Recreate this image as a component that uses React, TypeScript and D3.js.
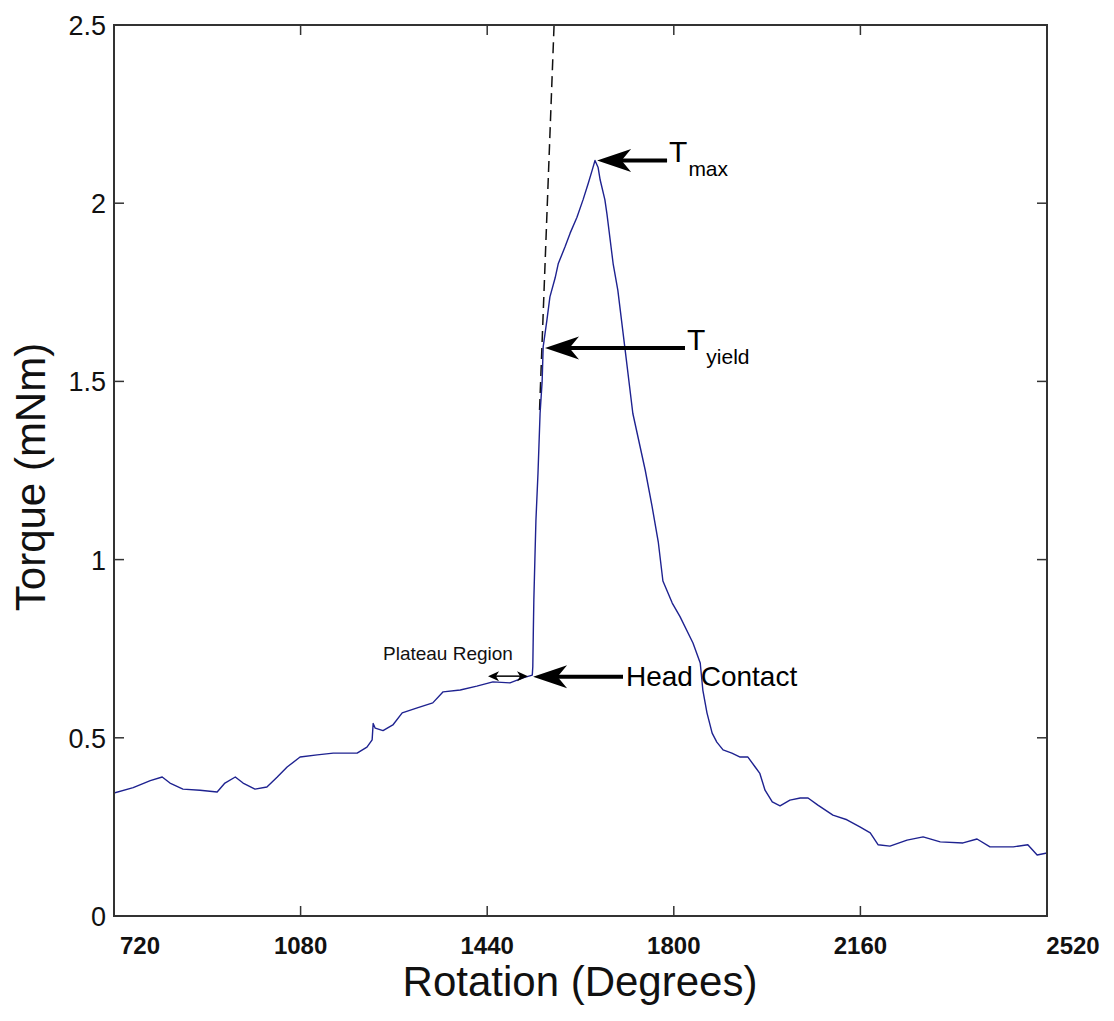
import React from 'react'
import * as d3 from 'd3'

// torque trace (degrees, mNm)
const rotation = [
  720, 757, 790, 813, 828, 853, 886, 919, 934, 954, 969, 992, 1015, 1035, 1054, 1079, 1112, 1143, 1189,
  1208, 1218, 1220, 1224, 1239, 1258, 1276, 1305, 1335, 1355, 1388, 1420, 1451, 1484, 1509, 1527,
  1528, 1529, 1530, 1532, 1534, 1538, 1542, 1546, 1548, 1555, 1561, 1571, 1577, 1590, 1600, 1613, 1625,
  1635, 1642, 1648, 1654, 1658, 1667, 1671, 1683, 1692, 1706, 1721, 1745, 1758, 1770, 1779, 1797, 1812,
  1837, 1851, 1856, 1864, 1874, 1883, 1895, 1912, 1928, 1943, 1957, 1966, 1976, 1990, 2005, 2024, 2044,
  2059, 2078, 2107, 2134, 2159, 2179, 2194, 2217, 2250, 2281, 2314, 2358, 2385, 2410, 2455, 2483, 2501, 2520,
]
const torque = [
  0.345, 0.36, 0.38, 0.39, 0.373, 0.356, 0.353, 0.348, 0.373, 0.39, 0.373, 0.356, 0.362, 0.39, 0.418, 0.446,
  0.452, 0.457, 0.457, 0.474, 0.494, 0.54, 0.527, 0.52, 0.536, 0.57, 0.584, 0.598, 0.629, 0.634, 0.645, 0.657,
  0.654, 0.668, 0.676, 0.7, 0.8, 0.887, 1.0, 1.11, 1.243, 1.41, 1.5, 1.597, 1.67, 1.737, 1.79, 1.83, 1.877,
  1.916, 1.96, 2.01, 2.056, 2.09, 2.12, 2.1, 2.065, 2.01, 1.97, 1.83, 1.756, 1.59, 1.41, 1.25, 1.15, 1.05,
  0.94, 0.878, 0.84, 0.766, 0.71, 0.634, 0.57, 0.513, 0.488, 0.466, 0.457, 0.446, 0.446, 0.418, 0.4, 0.353,
  0.32, 0.309, 0.325, 0.331, 0.331, 0.311, 0.283, 0.27, 0.25, 0.233, 0.2, 0.196, 0.213, 0.222, 0.208, 0.205,
  0.216, 0.194, 0.194, 0.2, 0.171, 0.177,
]

// dashed elastic tangent
const tangentX = [1541, 1569]
const tangentY = [1.42, 2.5]

const xTicks = [720, 1080, 1440, 1800, 2160, 2520]
const yTicks = [0, 0.5, 1, 1.5, 2, 2.5]
const yTickLabels = ['0', '0.5', '1', '1.5', '2', '2.5']

// annotation arrows: tip, tail end and label
const arrowTipX = [1652, 1551.5, 1528.5]
const arrowTipY = [2.12, 1.594, 0.671]
const arrowTailX = [1787, 1821.6, 1702]
const arrowMain = ['T', 'T', 'Head Contact']
const arrowSub = ['max', 'yield', '']

const plateauX = [1441.6, 1518.7]
const plateauY = 0.673

const W = 1114
const H = 1021
const left = 114
const right = 1047
const top = 25
const bottom = 916
const font = '"Liberation Sans", Arial, sans-serif'

const headPath = (x: number, y: number, L: number, w: number, dir: number) =>
  `M${x},${y}L${x + dir * L},${y - w}L${x + dir * L * 0.72},${y}L${x + dir * L},${y + w}Z`

export default function App() {
  const x = d3.scaleLinear().domain([720, 2520]).range([left, right])
  const y = d3.scaleLinear().domain([0, 2.5]).range([bottom, top])

  const pts = rotation.map((r, i) => [r, torque[i]] as [number, number])
  const line = d3
    .line<[number, number]>()
    .x((d) => x(d[0]))
    .y((d) => y(d[1]))

  const tangent = tangentX.map((t, i) => [t, tangentY[i]] as [number, number])

  const xLabelShift = (i: number) => (i === 0 || i === xTicks.length - 1 ? 26 : 0)

  return (
    <svg width={W} height={H} style={{ position: 'absolute', left: 0, top: 0, background: '#fff' }}>
      <defs>
        <clipPath id="plot">
          <rect x={left} y={top} width={right - left} height={bottom - top} />
        </clipPath>
      </defs>
      <rect width={W} height={H} fill="#fff" />

      {/* data */}
      <g clipPath="url(#plot)">
        <path d={line(tangent) ?? ''} fill="none" stroke="#111" strokeWidth={1.5} strokeDasharray="11,6" />
        <path d={line(pts) ?? ''} fill="none" stroke="#1e2290" strokeWidth={1.4} strokeLinejoin="round" />
      </g>

      {/* box + ticks */}
      <rect x={left} y={top} width={right - left} height={bottom - top} fill="none" stroke="#333" strokeWidth={2} />
      {xTicks.map((t, i) => (
        <g key={'x' + t}>
          <line x1={x(t)} x2={x(t)} y1={bottom} y2={bottom - 10} stroke="#333" strokeWidth={1.5} />
          <line x1={x(t)} x2={x(t)} y1={top} y2={top + 10} stroke="#333" strokeWidth={1.5} />
          <text
            x={x(t) + xLabelShift(i)}
            y={954}
            textAnchor="middle"
            fontFamily={font}
            fontWeight="bold"
            fontSize={24}
            fill="#111"
          >
            {t}
          </text>
        </g>
      ))}
      {yTicks.map((t, i) => (
        <g key={'y' + t}>
          <line x1={left} x2={left + 10} y1={y(t)} y2={y(t)} stroke="#333" strokeWidth={1.5} />
          <line x1={right} x2={right - 10} y1={y(t)} y2={y(t)} stroke="#333" strokeWidth={1.5} />
          <text x={106} y={y(t) + 10} textAnchor="end" fontFamily={font} fontSize={27} fill="#111">
            {yTickLabels[i]}
          </text>
        </g>
      ))}

      {/* axis titles */}
      <text x={580} y={996} textAnchor="middle" fontFamily={font} fontSize={42} fill="#111">
        Rotation (Degrees)
      </text>
      <text
        transform={`translate(45,477) rotate(-90)`}
        textAnchor="middle"
        fontFamily={font}
        fontSize={42}
        fill="#111"
      >
        Torque (mNm)
      </text>

      {/* annotation arrows */}
      {arrowTipX.map((tx, i) => {
        const px = x(tx)
        const py = y(arrowTipY[i])
        const tail = x(arrowTailX[i])
        const L = 34
        return (
          <g key={'a' + i}>
            <line x1={px + L * 0.7} x2={tail} y1={py} y2={py} stroke="#000" strokeWidth={4} />
            <path d={headPath(px, py, L, 11.5, 1)} fill="#000" />
            {arrowSub[i] ? (
              <text x={tail + 2} y={py + 2} fontFamily={font} fontSize={30} fill="#000">
                {arrowMain[i]}
                <tspan dy={14} dx={1} fontSize={21}>
                  {arrowSub[i]}
                </tspan>
              </text>
            ) : (
              <text x={tail + 3} y={py + 9.5} fontFamily={font} fontSize={28} fill="#000">
                {arrowMain[i]}
              </text>
            )}
          </g>
        )
      })}

      {/* plateau double arrow */}
      <g>
        <line
          x1={x(plateauX[0]) + 6}
          x2={x(plateauX[1]) - 6}
          y1={y(plateauY)}
          y2={y(plateauY)}
          stroke="#000"
          strokeWidth={1.5}
        />
        <path d={headPath(x(plateauX[0]), y(plateauY), 11, 5, 1)} fill="#000" />
        <path d={headPath(x(plateauX[1]), y(plateauY), 11, 5, -1)} fill="#000" />
        <text x={x(1239)} y={y(0.718)} fontFamily={font} fontSize={19} fill="#111">
          Plateau Region
        </text>
      </g>
    </svg>
  )
}
